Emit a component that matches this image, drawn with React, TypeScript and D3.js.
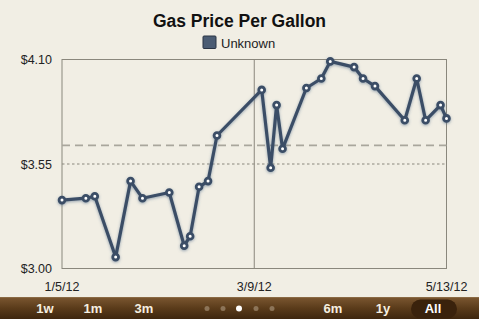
import React from "react";
import * as d3 from "d3";

const dates = [
  "2012-01-05", "2012-01-13", "2012-01-16", "2012-01-23", "2012-01-28", "2012-02-01",
  "2012-02-10", "2012-02-15", "2012-02-17", "2012-02-20", "2012-02-23", "2012-02-26",
  "2012-03-12", "2012-03-15", "2012-03-17", "2012-03-19", "2012-03-27", "2012-04-01",
  "2012-04-04", "2012-04-12", "2012-04-15", "2012-04-19", "2012-04-29", "2012-05-03",
  "2012-05-06", "2012-05-11", "2012-05-13",
];
const prices = [
  3.36, 3.37, 3.38, 3.06, 3.46, 3.37, 3.40, 3.12, 3.17, 3.43, 3.46, 3.70,
  3.94, 3.53, 3.86, 3.63, 3.95, 4.00, 4.09, 4.06, 4.00, 3.96, 3.78, 4.00,
  3.78, 3.86, 3.79,
];
const yTicks = [3.0, 3.55, 4.1];
const xTickLabels = ["1/5/12", "3/9/12", "5/13/12"];
const rangeButtons = ["1w", "1m", "3m", "6m", "1y", "All"];
const title = "Gas Price Per Gallon";
const seriesName = "Unknown";

const W = 479;
const H = 319;
const M = { left: 62, right: 446.5, top: 59.5, bottom: 268.5 };

export default function App() {
  const parse = d3.timeParse("%Y-%m-%d");
  const data = dates.map((d, i) => ({ date: parse(d) as Date, value: prices[i] }));
  const x = d3
    .scaleTime()
    .domain(d3.extent(data, (d) => d.date) as [Date, Date])
    .range([M.left, M.right]);
  const y = d3.scaleLinear().domain([3.0, 4.1]).range([M.bottom, M.top]);
  const line = d3
    .line<{ date: Date; value: number }>()
    .x((d) => x(d.date))
    .y((d) => y(d.value));
  const avg = d3.mean(prices) as number;
  const [x0, x1] = x.domain();
  const xMid = new Date((x0.getTime() + x1.getTime()) / 2);
  const xTickDates = [x0, xMid, x1];
  const font = "'Liberation Sans', Arial, Helvetica, sans-serif";
  const lineColor = "#3b4e66";

  const buttonX: Record<string, number> = { "1w": 45, "1m": 93, "3m": 144, "6m": 333, "1y": 383, All: 433 };
  const dotXs = [207, 223, 239, 256, 272];

  return (
    <svg
      width={W}
      height={H}
      style={{ position: "absolute", left: 0, top: 0, display: "block" }}
      fontFamily={font}
    >
      <defs>
        <linearGradient id="bar" x1="0" y1="0" x2="0" y2="1">
          <stop offset="0" stopColor="#7a5630" />
          <stop offset="0.5" stopColor="#5a3b1a" />
          <stop offset="1" stopColor="#3e260e" />
        </linearGradient>
        <filter id="glow" x="-10%" y="-10%" width="120%" height="120%">
          <feGaussianBlur in="SourceAlpha" stdDeviation="1.6" />
          <feOffset dx="0" dy="0.5" result="b" />
          <feFlood floodColor="#4a6584" floodOpacity="0.55" />
          <feComposite in2="b" operator="in" />
          <feMerge>
            <feMergeNode />
            <feMergeNode in="SourceGraphic" />
          </feMerge>
        </filter>
      </defs>
      <rect x={0} y={0} width={W} height={H} fill="#f1eee4" />

      <text x={239.5} y={26.5} textAnchor="middle" fontSize={17.5} fontWeight="bold" fill="#111">
        {title}
      </text>
      <rect x={203} y={36} width={13} height={12.5} fill="#4b5c73" stroke="#2a3444" strokeWidth={1} rx={1} />
      <text x={221} y={47.5} fontSize={13} fill="#222">
        {seriesName}
      </text>

      {/* plot frame */}
      <rect
        x={M.left}
        y={M.top}
        width={M.right - M.left}
        height={M.bottom - M.top}
        fill="none"
        stroke="#8a877c"
        strokeWidth={1}
      />
      {/* mid gridlines */}
      <line x1={x(xMid)} x2={x(xMid)} y1={M.top} y2={M.bottom} stroke="#8a877c" strokeWidth={1} />
      <line
        x1={M.left}
        x2={M.right}
        y1={y(yTicks[1])}
        y2={y(yTicks[1])}
        stroke="#8a877c"
        strokeWidth={1}
        strokeDasharray="2.5,2.5"
      />
      <line
        x1={M.left}
        x2={M.right}
        y1={y(avg)}
        y2={y(avg)}
        stroke="#a9a69c"
        strokeWidth={1.8}
        strokeDasharray="8,5"
      />

      {yTicks.map((t) => (
        <text key={t} x={52} y={y(t) + 4.5} textAnchor="end" fontSize={12.5} fill="#222">
          {d3.format("$.2f")(t)}
        </text>
      ))}
      {xTickDates.map((d, i) => (
        <text key={i} x={x(d)} y={291} textAnchor="middle" fontSize={12.5} fill="#222">
          {xTickLabels[i]}
        </text>
      ))}

      <g filter="url(#glow)">
        <path d={line(data) as string} fill="none" stroke={lineColor} strokeWidth={3.2} strokeLinejoin="round" />
        {data.map((d, i) => (
          <circle key={i} cx={x(d.date)} cy={y(d.value)} r={2.9} fill="#fff" stroke={lineColor} strokeWidth={2.8} />
        ))}
      </g>

      {/* bottom bar */}
      <rect x={0} y={297.5} width={W} height={H - 297.5} fill="url(#bar)" />
      <line x1={0} x2={W} y1={297.5} y2={297.5} stroke="#8a6a44" strokeWidth={1} />
      <rect x={411} y={299.5} width={46} height={19} rx={9.5} fill="#3a220c" />
      {rangeButtons.map((b) => (
        <text
          key={b}
          x={buttonX[b]}
          y={313}
          textAnchor="middle"
          fontSize={13}
          fontWeight="bold"
          fill={b === "All" ? "#ffffff" : "#f6efe0"}
        >
          {b}
        </text>
      ))}
      {dotXs.map((dx, i) => (
        <circle key={i} cx={dx} cy={308.5} r={i === 2 ? 3 : 2.5} fill={i === 2 ? "#ffffff" : "#8c7458"} />
      ))}
    </svg>
  );
}
